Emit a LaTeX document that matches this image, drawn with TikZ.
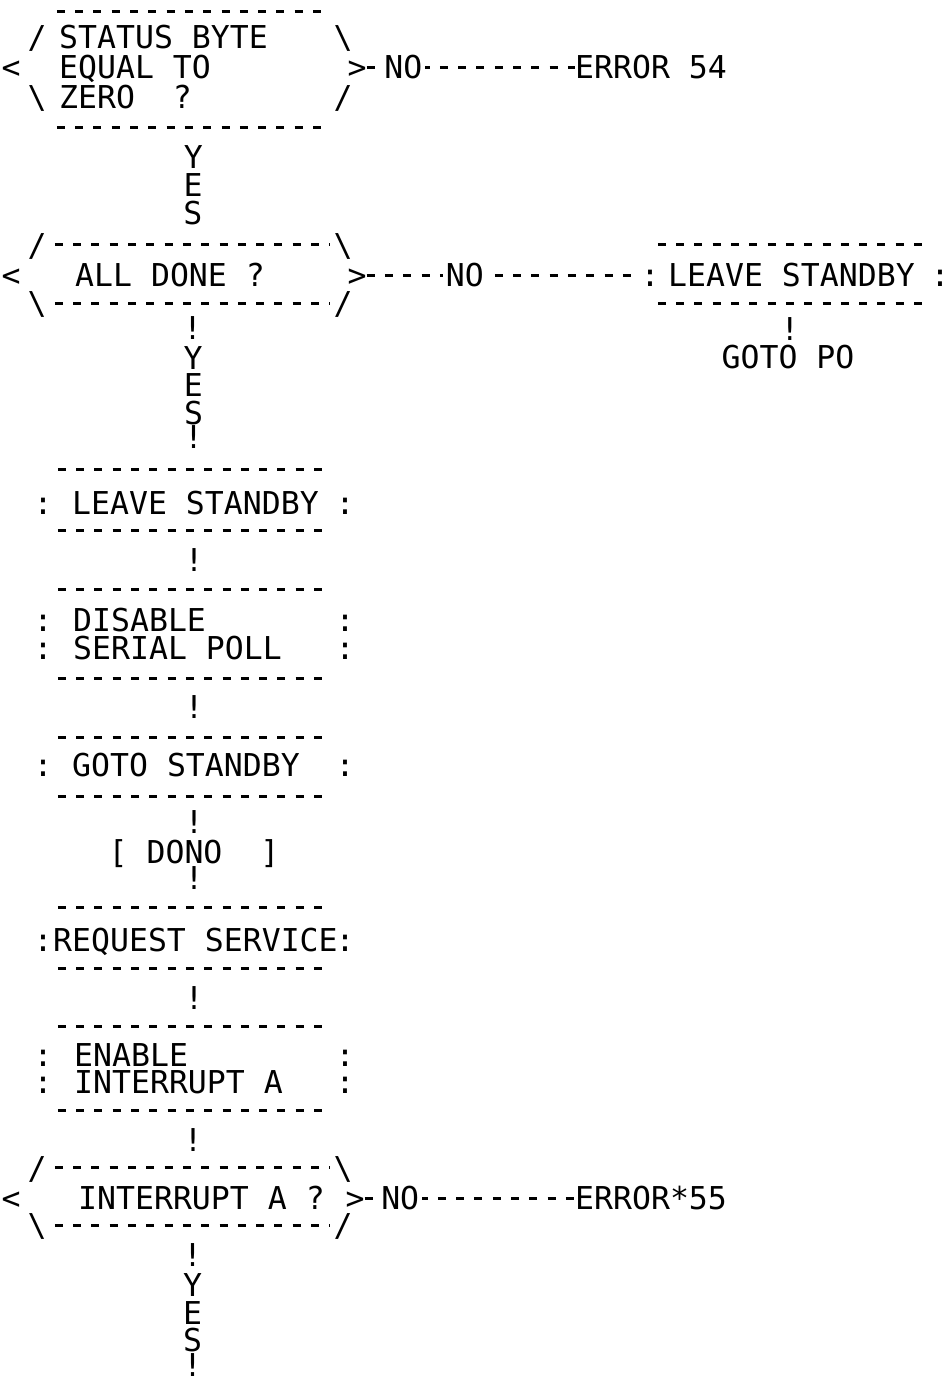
\documentclass[tikz,border=0pt]{standalone}
\usepackage{fontspec}
\newfontfamily\mono{DejaVu Sans Mono}
\usetikzlibrary{calc}
\tikzset{
  tt/.style={font=\mono\fontsize{31.5}{30}\selectfont, inner sep=0pt},
  ch/.style={tt, text height=23pt, text depth=0pt, anchor=center},
  ln/.style={tt, text height=23pt, text depth=0pt, anchor=west},
  ml/.style={tt, align=left, anchor=base west},
  frame/.style={draw=none, inner sep=0pt},
  rule/.style={line width=3pt, dash pattern=on 8pt off 10.3pt},
  nolab/.style={ch, fill=white, inner xsep=3pt},
}
\begin{document}
\begin{tikzpicture}[x=1pt,y=-1pt]
\useasboundingbox (0,0) rectangle (950,1387);
% ================= decision A
\node[frame, minimum width=273pt, minimum height=115pt] (dA) at (193.5,69.5) {};
\draw[rule] (dA.north west) -- (dA.north east);
\draw[rule] (dA.south west) -- (dA.south east);
\node[ml] (tA) at (59,108.5) {STATUS BYTE\\EQUAL TO\\ZERO~~?};
\node[ch] (dA1) at (37,37) {/};
\node[ch] (dA2) at (343,37) {\textbackslash};
\node[ch] (dA3) at (11,67) {<};
\node[ch] (dA4) at (357,67) {>};
\node[ch] (dA5) at (37,97) {\textbackslash};
\node[ch] (dA6) at (343,97) {/};
\node[ln] (e54) at (575,67) {ERROR 54};
% ================= decision B
\node[frame, minimum width=275pt, minimum height=58pt] (dB) at (192.5,274) {};
\draw[rule] (dB.north west) -- (dB.north east);
\draw[rule] (dB.south west) -- (dB.south east);
\node[ln] (tB) at (75,275) {ALL DONE ?};
\node[ch] (dB1) at (37,245) {/};
\node[ch] (dB2) at (343,245) {\textbackslash};
\node[ch] (dB3) at (11,275) {<};
\node[ch] (dB4) at (357,275) {>};
\node[ch] (dB5) at (37,303) {\textbackslash};
\node[ch] (dB6) at (343,303) {/};
% ================= right box R
\node[frame, minimum width=270pt, minimum height=58pt] (dR) at (793,274) {};
\draw[rule] (dR.north west) -- (dR.north east);
\draw[rule] (dR.south west) -- (dR.south east);
\node[ln] (tR) at (668,275) {LEAVE STANDBY};
\node[ch] (rL) at (650,275) {:};
\node[ch] (rR) at (940,275) {:};
\node[ch] (gP) at (788,357) {GOTO PO};
% ================= box C
\node[frame, minimum width=272pt, minimum height=60pt] (dC) at (194,500) {};
\draw[rule] (dC.north west) -- (dC.north east);
\draw[rule] (dC.south west) -- (dC.south east);
\node[ln] (tC) at (72,503) {LEAVE STANDBY};
\node[ch] (cL) at (43,503) {:};
\node[ch] (cR) at (345,503) {:};
% ================= box D
\node[frame, minimum width=272pt, minimum height=88pt] (dD) at (194,634) {};
\draw[rule] (dD.north west) -- (dD.north east);
\draw[rule] (dD.south west) -- (dD.south east);
\node[ml] (tD) at (73,659.5) {DISABLE\\[-2pt]SERIAL POLL};
\node[ch] (dL1) at (43,620) {:};
\node[ch] (dL2) at (43,648) {:};
\node[ch] (dR1) at (345,620) {:};
\node[ch] (dR2) at (345,648) {:};
% ================= box E
\node[frame, minimum width=272pt, minimum height=58pt] (dE) at (194,767) {};
\draw[rule] (dE.north west) -- (dE.north east);
\draw[rule] (dE.south west) -- (dE.south east);
\node[ln] (tE) at (72,765) {GOTO STANDBY};
\node[ch] (eL) at (43,765) {:};
\node[ch] (eR) at (345,765) {:};
% ================= DONO
\node[ch] (dono) at (194,852) {[ DONO~~]};
% ================= box F
\node[frame, minimum width=272pt, minimum height=60pt] (dF) at (194,938) {};
\draw[rule] (dF.north west) -- (dF.north east);
\draw[rule] (dF.south west) -- (dF.south east);
\node[ln] (tF) at (53,940) {REQUEST SERVICE};
\node[ch] (fL) at (43,940) {:};
\node[ch] (fR) at (345,940) {:};
% ================= box G
\node[frame, minimum width=272pt, minimum height=83pt] (dG) at (194,1068.5) {};
\draw[rule] (dG.north west) -- (dG.north east);
\draw[rule] (dG.south west) -- (dG.south east);
\node[ml] (tG) at (74,1093.5) {ENABLE\\[-3pt]INTERRUPT A};
\node[ch] (gL1) at (43,1055) {:};
\node[ch] (gL2) at (43,1082) {:};
\node[ch] (gR1) at (345,1055) {:};
\node[ch] (gR2) at (345,1082) {:};
% ================= decision H
\node[frame, minimum width=275pt, minimum height=57pt] (dH) at (192.5,1196.5) {};
\draw[rule] (dH.north west) -- (dH.north east);
\draw[rule] (dH.south west) -- (dH.south east);
\node[ln] (tH) at (78,1198) {INTERRUPT A ?};
\node[ch] (dH1) at (37,1168) {/};
\node[ch] (dH2) at (343,1168) {\textbackslash};
\node[ch] (dH3) at (11,1198) {<};
\node[ch] (dH4) at (355,1198) {>};
\node[ch] (dH5) at (37,1225) {\textbackslash};
\node[ch] (dH6) at (343,1225) {/};
\node[ln] (e55) at (575,1198) {ERROR*55};
\coordinate (end) at (192.5,1387);
% ================= connectors
\draw[rule] (dA4.east) -- node[nolab, pos=0.176] (nA) {NO} (e54.west);
\draw[rule] (dB4.east) -- node[nolab, pos=0.359] (nB) {NO} (rL.west);
\draw[rule] (dH4.east) -- node[nolab, pos=0.169] (nH) {NO} (e55.west);
\path (dA.south) -- (dB.north)
  node[ch, pos=0.254] (yA) {Y} node[ch, pos=0.49] (eA) {E} node[ch, pos=0.73] (sA) {S};
\path (dB.south) -- (dC.north)
  node[ch, pos=0.150] (b1) {!} node[ch, pos=0.329] (yB) {Y} node[ch, pos=0.491] (eB) {E}
  node[ch, pos=0.659] (sB) {S} node[ch, pos=0.802] (b2) {!};
\path (dR.south) -- (gP.north) node[ch, pos=0.62] (rb) {!};
\path (dC.south) -- (dD.north) node[ch, pos=0.5] (cb) {!};
\path (dD.south) -- (dE.north) node[ch, pos=0.483] (db) {!};
\path (dE.south) -- (dono.north) node[ch, pos=0.584] (eb) {!};
\path (dono.south) -- (dF.north) node[ch, pos=0.326] (ob) {!};
\path (dF.south) -- (dG.north) node[ch, pos=0.508] (fb) {!};
\path (dG.south) -- (dH.north) node[ch, pos=0.517] (gb) {!};
\path (dH.south) -- (end)
  node[ch, pos=0.185] (h1) {!} node[ch, pos=0.370] (yH) {Y} node[ch, pos=0.543] (eH) {E}
  node[ch, pos=0.710] (sH) {S} node[ch, pos=0.864] (h2) {!};
\end{tikzpicture}
\end{document}
